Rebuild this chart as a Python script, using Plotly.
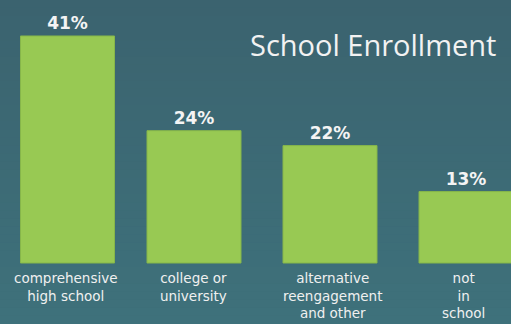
import plotly.graph_objects as go

categories = ["comprehensive<br>high school", "college or<br>university",
              "alternative<br>reengagement<br>and other", "not<br>in<br>school"]
values = [41, 23.9, 21.2, 12.9]
value_labels = ["41%", "24%", "22%", "13%"]
title = "School Enrollment"

# layout-only positions (pixel-like units along x)
bar_pos = [67.5, 194, 330, 466]
label_pos = [65, 193, 332, 463]

W, H = 511, 324
px_per_unit = 5.537
base_px = 263
y_top = base_px / px_per_unit
y_bot = -(H - base_px) / px_per_unit

fig = go.Figure()
fig.add_trace(go.Bar(
    x=bar_pos, y=values, width=94,
    marker=dict(color="#98c953", line=dict(color="#86b64a", width=1)),
    text=value_labels, textposition="outside", cliponaxis=False,
    textfont=dict(family="DejaVu Sans", size=17, color="#f4f4f4", weight="bold"),
    hoverinfo="skip",
))

shapes = []
n = 40
top_c = (59, 99, 111)
bot_c = (62, 113, 123)
for i in range(n):
    t = i / (n - 1)
    c = tuple(round(top_c[k] + (bot_c[k] - top_c[k]) * t) for k in range(3))
    shapes.append(dict(type="rect", xref="paper", yref="paper",
                       x0=0, x1=1, y0=1 - (i + 1) / n, y1=1 - i / n + 0.001,
                       fillcolor="rgb(%d,%d,%d)" % c, line=dict(width=0), layer="below"))

annotations = [dict(x=label_pos[i], y=0, xref="x", yref="y", yanchor="top",
                    text=categories[i], showarrow=False, yshift=-5,
                    font=dict(family="DejaVu Sans", size=13.5, color="#f0f0f0"))
               for i in range(len(categories))]
annotations.append(dict(x=498, y=1 - 45 / H, xref="x", yref="paper", xanchor="right",
                        yanchor="middle", text=title, showarrow=False,
                        font=dict(family="Open Sans", size=29, color="#f2f2f2")))

fig.update_layout(
    width=W, height=H, margin=dict(l=0, r=0, t=0, b=0),
    paper_bgcolor="#3e6a74", plot_bgcolor="rgba(0,0,0,0)",
    xaxis=dict(range=[0, W], visible=False, fixedrange=True),
    yaxis=dict(range=[y_bot, y_top], visible=False, fixedrange=True),
    shapes=shapes, annotations=annotations, showlegend=False,
)
fig.write_html("out.html")
